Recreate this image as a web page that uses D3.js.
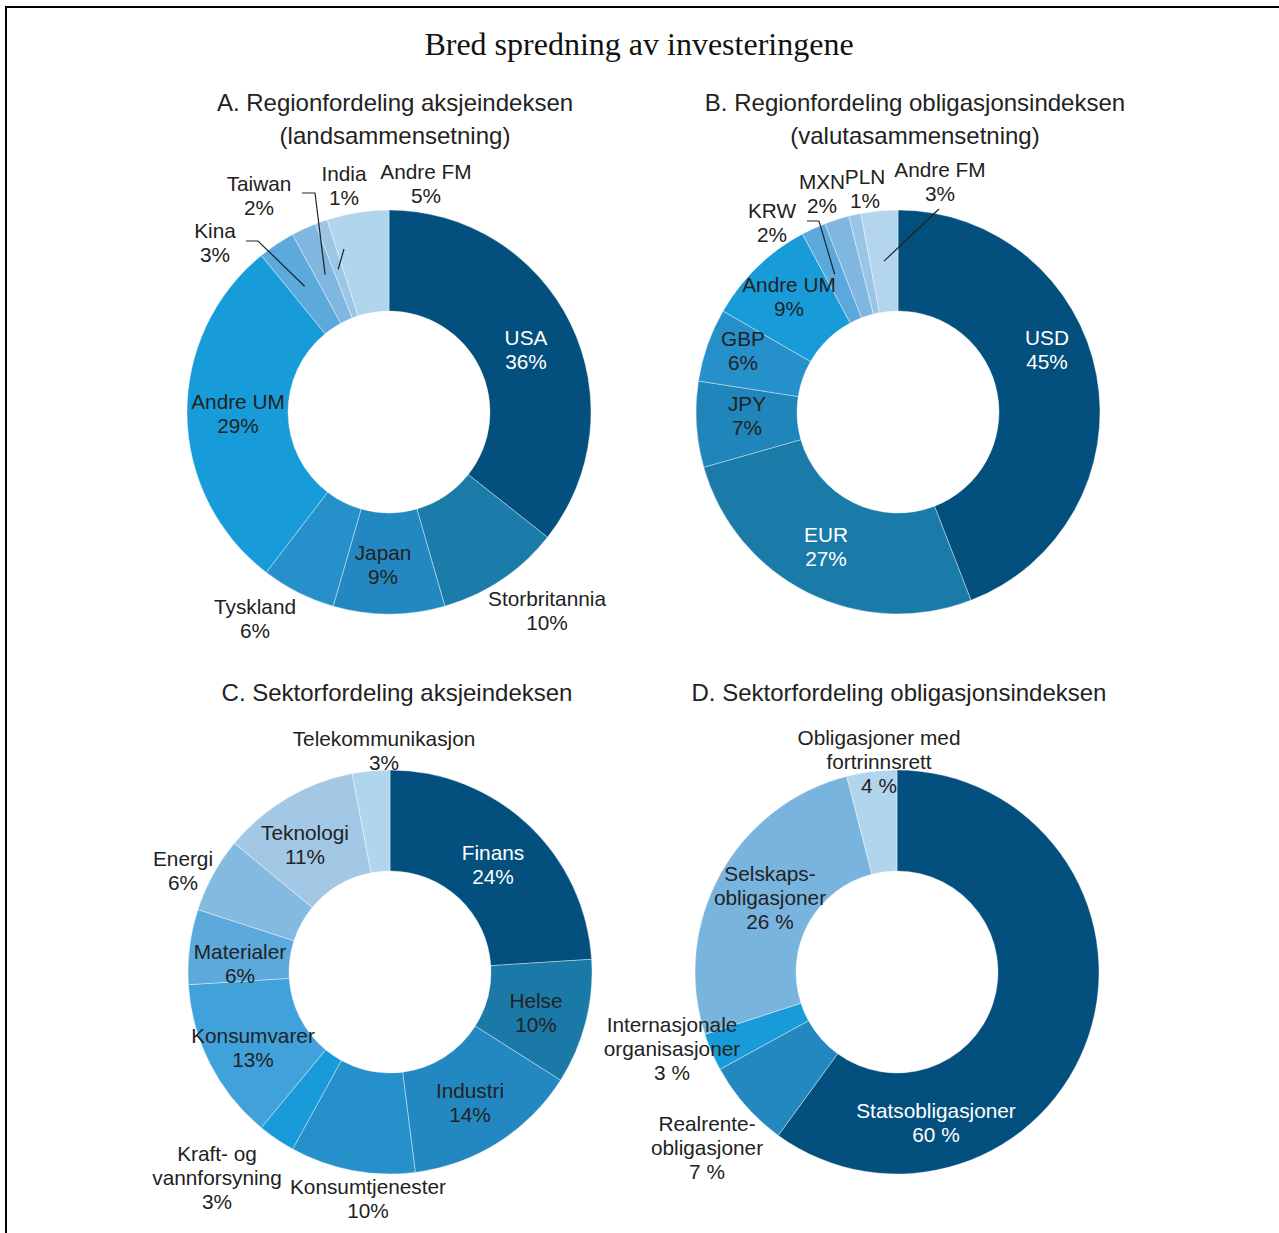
<!DOCTYPE html>
<html>
<head>
<meta charset="utf-8">
<script src="https://cdn.jsdelivr.net/npm/d3@7"></script>
<style>
  html, body { margin: 0; padding: 0; background: #fff; }
  svg { display: block; }
</style>
</head>
<body>
<svg id="chart" width="1279" height="1233"></svg>
<script>
// ---- Data ----------------------------------------------------------------
const title = "Bred spredning av investeringene";

// A. Equity index by country
const eqRegionTitle = ["A. Regionfordeling aksjeindeksen", "(landsammensetning)"];
const eqRegionNames = ["USA", "Storbritannia", "Japan", "Tyskland", "Andre UM", "Kina", "Taiwan", "India", "Andre FM"];
const eqRegionValues = [36, 10, 9, 6, 29, 3, 2, 1, 5];

// B. Bond index by currency
const bondCurrencyTitle = ["B. Regionfordeling obligasjonsindeksen", "(valutasammensetning)"];
const bondCurrencyNames = ["USD", "EUR", "JPY", "GBP", "Andre UM", "KRW", "MXN", "PLN", "Andre FM"];
const bondCurrencyValues = [45, 27, 7, 6, 9, 2, 2, 1, 3];

// C. Equity index by sector
const eqSectorTitle = ["C. Sektorfordeling aksjeindeksen"];
const eqSectorNames = ["Finans", "Helse", "Industri", "Konsumtjenester", "Kraft- og\nvannforsyning", "Konsumvarer", "Materialer", "Energi", "Teknologi", "Telekommunikasjon"];
const eqSectorValues = [24, 10, 14, 10, 3, 13, 6, 6, 11, 3];

// D. Bond index by sector
const bondSectorTitle = ["D. Sektorfordeling obligasjonsindeksen"];
const bondSectorNames = ["Statsobligasjoner", "Realrente-\nobligasjoner", "Internasjonale\norganisasjoner", "Selskaps-\nobligasjoner", "Obligasjoner med\nfortrinnsrett"];
const bondSectorValues = [60, 7, 3, 26, 4];

// ---- Styling -------------------------------------------------------------
const colorsA = ["#03507e", "#1b7ca9", "#2388c2", "#2690ca", "#179cd9", "#5ca9db", "#7fb7e0", "#9cc6e5", "#b2d5ee"];
const colorsB = ["#03507e", "#1b7ba8", "#2085ba", "#2690ca", "#179cd9", "#5ba9dc", "#7fb7e0", "#9bc5e6", "#b3d5ee"];
const colorsC = ["#03507e", "#1a79a7", "#2388c1", "#2690ca", "#189bd8", "#40a1db", "#5ca9dc", "#85bae0", "#a3c8e5", "#b2d5ee"];
const colorsD = ["#03507e", "#2388c0", "#179cd9", "#79b4de", "#b2d5ee"];

// label colour per slice: white on the darker slices
const textA = ["#fff", "#222", "#222", "#222", "#222", "#222", "#222", "#222", "#222"];
const textB = ["#fff", "#fff", "#222", "#222", "#222", "#222", "#222", "#222", "#222"];
const textC = ["#fff", "#222", "#222", "#222", "#222", "#222", "#222", "#222", "#222", "#222"];
const textD = ["#fff", "#222", "#222", "#222", "#222"];

// label block centres, offset from each ring's centre
const labelPosA = [[137, -63], [158, 198], [-6, 152], [-134, 206], [-151, 1], [-174, -170], [-130, -217], [-45, -227], [37, -229]];
const labelPosB = [[149, -63], [-72, 134], [-151, 3], [-155, -62], [-109, -116], [-126, -190], [-76, -219], [-33, -224], [42, -231]];
const labelPosC = [[103, -108], [146, 40], [80, 130], [-22, 226], [-173, 205], [-137, 75], [-150, -9], [-207, -102], [-85, -128], [-6, -222]];
const labelPosD = [[39, 150], [-190, 175], [-225, 76], [-127, -75], [-18, -211]];

// leader lines: slice index and the polyline start points (offsets from centre)
const leadersA = [
  { slice: 5, from: [[-143, -171], [-131, -171]] },
  { slice: 6, from: [[-87, -219], [-74, -219]] },
  { slice: 7, from: [[-45, -163]] }
];
const leadersB = [
  { slice: 5, from: [[-91, -191], [-79, -191]] },
  { slice: 8, from: [[41, -203]] }
];

const W = 1279, H = 1233;
const outerR = 202, innerR = 101;
const fontLabel = "'Liberation Sans', Arial, Helvetica, sans-serif";

const svg = d3.select("#chart");

// frame (top and left edges)
svg.append("line").attr("x1", 5).attr("x2", W).attr("y1", 7).attr("y2", 7)
  .attr("stroke", "#000").attr("stroke-width", 2);
svg.append("line").attr("x1", 6).attr("x2", 6).attr("y1", 6).attr("y2", H)
  .attr("stroke", "#000").attr("stroke-width", 2);

svg.append("text")
  .attr("x", 639).attr("y", 44)
  .attr("text-anchor", "middle").attr("dominant-baseline", "central")
  .style("font-family", "'Liberation Serif', 'Times New Roman', serif")
  .style("font-size", "32px").style("fill", "#111")
  .text(title);

function multiline(sel, lines, lh) {
  const n = lines.length;
  lines.forEach((ln, i) => {
    sel.append("tspan")
      .attr("x", sel.attr("x"))
      .attr("dy", i === 0 ? -(n - 1) * lh / 2 : lh)
      .text(ln);
  });
}

function donut(cfg) {
  const g = svg.append("g").attr("transform", `translate(${cfg.cx},${cfg.cy})`);

  // heading (first line sits at ty)
  const h = svg.append("text")
    .attr("x", cfg.tx).attr("y", cfg.ty + (cfg.title.length - 1) * 33 / 2)
    .attr("text-anchor", "middle").attr("dominant-baseline", "central")
    .style("font-family", fontLabel).style("font-size", "24px").style("fill", "#222");
  multiline(h, cfg.title, 33);

  const pie = d3.pie().sort(null).value(d => d)
    .startAngle(0).endAngle(2 * Math.PI);
  const arcs = pie(cfg.values);
  const arc = d3.arc().innerRadius(innerR).outerRadius(outerR);

  g.selectAll("path.slice")
    .data(arcs)
    .join("path")
    .attr("class", "slice")
    .attr("d", arc)
    .attr("fill", (d, i) => cfg.colors[i])
    .attr("stroke", "rgba(255,255,255,0.55)")
    .attr("stroke-width", 0.7);

  // leader lines
  (cfg.leaders || []).forEach(l => {
    const end = arc.centroid(arcs[l.slice]);
    const pts = l.from.concat([end]);
    g.append("path")
      .attr("d", d3.line()(pts))
      .attr("fill", "none")
      .attr("stroke", "#222")
      .attr("stroke-width", 1.2);
  });

  // slice labels: name lines + value
  arcs.forEach((d, i) => {
    const lines = cfg.names[i].split("\n");
    lines.push(cfg.values[i] + cfg.unit);
    const t = g.append("text")
      .attr("x", cfg.labelPos[i][0]).attr("y", cfg.labelPos[i][1])
      .attr("text-anchor", "middle").attr("dominant-baseline", "central")
      .style("font-family", fontLabel).style("font-size", "20.8px")
      .style("fill", cfg.textColors[i]);
    multiline(t, lines, 24);
  });
}

donut({ cx: 389, cy: 412, tx: 395, ty: 102, title: eqRegionTitle, names: eqRegionNames, values: eqRegionValues,
  colors: colorsA, textColors: textA, labelPos: labelPosA, leaders: leadersA, unit: "%" });
donut({ cx: 898, cy: 412, tx: 915, ty: 102, title: bondCurrencyTitle, names: bondCurrencyNames, values: bondCurrencyValues,
  colors: colorsB, textColors: textB, labelPos: labelPosB, leaders: leadersB, unit: "%" });
donut({ cx: 390, cy: 972, tx: 397, ty: 692, title: eqSectorTitle, names: eqSectorNames, values: eqSectorValues,
  colors: colorsC, textColors: textC, labelPos: labelPosC, unit: "%" });
donut({ cx: 897, cy: 972, tx: 899, ty: 692, title: bondSectorTitle, names: bondSectorNames, values: bondSectorValues,
  colors: colorsD, textColors: textD, labelPos: labelPosD, unit: " %" });
</script>
</body>
</html>
